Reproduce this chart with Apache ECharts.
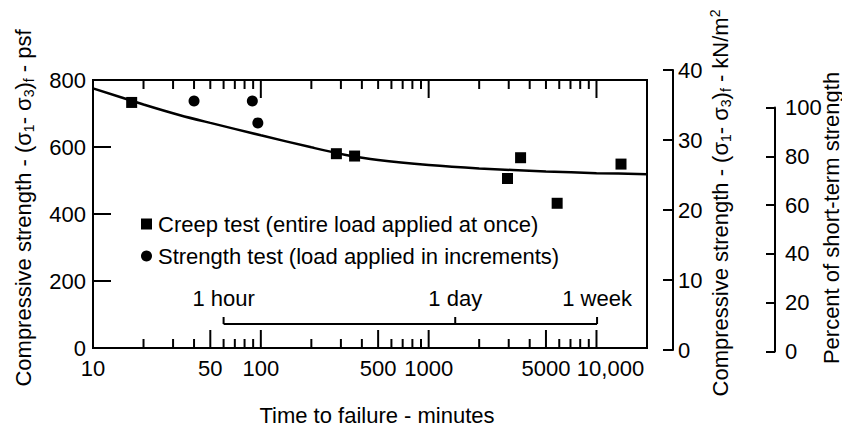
<!DOCTYPE html>
<html>
<head>
<meta charset="utf-8">
<script src="https://cdn.jsdelivr.net/npm/echarts@6/dist/echarts.min.js"></script>
<style>
  html, body { margin: 0; padding: 0; background: #fff; }
  #chart { width: 842px; height: 428px; }
</style>
</head>
<body>
<div id="chart"></div>
<script>
// Creep tests: time to failure (minutes) and compressive strength (psf)
const creepTime = [17, 282, 362, 2950, 3530, 5830, 14000];
const creepPsf  = [733, 580, 573, 506, 568, 432, 549];

// Strength tests, load applied in increments
const strengthTime = [40, 89, 96];
const strengthPsf  = [737, 737, 672];

// Trend curve through the results
const curveTime = [10, 20, 33, 50, 100, 200, 316, 500, 1000, 2000, 5000, 10000, 20000];
const curvePsf  = [775, 727, 695, 672, 635, 599, 577, 561, 546, 536, 527, 522, 519];

// Calendar marks on the time scale (minutes)
const timeMarks = [60, 1440, 10080];
const timeMarkLabels = ['1 hour', '1 day', '1 week'];

// Time axis labels and ticks (minutes)
const xLabelValues = [10, 50, 100, 500, 1000, 5000, 10000];
const xMajorBottom = [50, 100, 500, 1000, 5000, 10000];
const xMajorTop = [100, 1000, 10000];
const xMinorBottom = [20, 30, 40, 60, 70, 80, 90, 200, 300, 400, 600, 700, 800, 900,
                      2000, 3000, 4000, 6000, 7000, 8000, 9000];
const xMinorTop = [20, 30, 40, 50, 60, 70, 80, 90, 200, 300, 400, 500, 600, 700, 800, 900,
                   2000, 3000, 4000, 5000, 6000, 7000, 8000, 9000];

const creepName = 'Creep test (entire load applied at once)';
const strengthName = 'Strength test (load applied in increments)';

const FONT = '"Liberation Sans", Arial, Helvetica, sans-serif';
const BLACK = '#000';

function fmtMinutes(v) {
  return v >= 10000 ? v.toLocaleString('en-US') : String(v);
}

// Short tick marks along the top or bottom edge of the time axis
function tickSeries(values, side, len) {
  return {
    type: 'custom',
    xAxisIndex: 0,
    yAxisIndex: 0,
    silent: true,
    clip: false,
    z: 5,
    data: values.map(v => [v, 0]),
    renderItem(params, api) {
      const cs = params.coordSys;
      const x = api.coord([api.value(0), 0])[0];
      const y0 = side === 'bottom' ? cs.y + cs.height : cs.y;
      const y1 = side === 'bottom' ? y0 - len : y0 + len;
      return {
        type: 'line',
        shape: { x1: x, y1: y0, x2: x, y2: y1 },
        style: { stroke: BLACK, lineWidth: 2 }
      };
    }
  };
}

const sub = { fontSize: 14, fontFamily: FONT, fill: BLACK, padding: [11, 0, 0, 0] };
const sup = { fontSize: 14, fontFamily: FONT, fill: BLACK, padding: [0, 0, 11, 0] };
const norm = { fontSize: 22, fontFamily: FONT, fill: BLACK };
const stressLabel = '{n|Compressive strength - (σ}{s|1}{n|- σ}{s|3}{n|)}{s|f}{n| - ';

const sideAxis = (grid, max, step, tickLen, gap) => ({
  gridIndex: grid, type: 'value', position: 'right', min: 0, max: max, interval: step,
  axisLine: { show: true, onZero: false, lineStyle: { color: BLACK, width: 2 } },
  axisTick: { show: true, inside: true, length: tickLen, lineStyle: { color: BLACK, width: 2 } },
  axisLabel: { color: BLACK, fontSize: 22, fontFamily: FONT, margin: gap },
  splitLine: { show: false }
});

const chart = echarts.init(document.getElementById('chart'), null, { renderer: 'svg' });

chart.setOption({
  animation: false,
  backgroundColor: '#fff',
  textStyle: { fontFamily: FONT, color: BLACK },
  grid: [
    { left: 93, top: 80, width: 554, height: 268, show: true, borderColor: BLACK, borderWidth: 2, backgroundColor: 'transparent' },
    { left: 600, top: 70, width: 73, height: 280, show: false },
    { left: 700, top: 107.5, width: 75, height: 244, show: false }
  ],
  xAxis: [
    {
      gridIndex: 0, type: 'log', logBase: 10, min: 10, max: 20000,
      axisLine: { show: true, onZero: false, lineStyle: { color: BLACK, width: 2 } },
      axisTick: { show: false }, axisLabel: { show: false },
      splitLine: { show: false }, minorTick: { show: false }
    },
    { gridIndex: 1, type: 'value', min: 0, max: 1, show: false },
    { gridIndex: 2, type: 'value', min: 0, max: 1, show: false }
  ],
  yAxis: [
    {
      gridIndex: 0, type: 'value', min: 0, max: 800, interval: 200,
      axisLine: { show: true, onZero: false, lineStyle: { color: BLACK, width: 2 } },
      axisTick: { show: true, inside: true, length: 18, lineStyle: { color: BLACK, width: 2 } },
      axisLabel: { color: BLACK, fontSize: 22, fontFamily: FONT, margin: 7, padding: [7, 0, 0, 0] },
      splitLine: { show: false }
    },
    sideAxis(1, 40, 10, 10, 5),
    sideAxis(2, 100, 20, 9, 10)
  ],
  legend: {
    orient: 'vertical', left: 141, top: 213, padding: 0,
    itemWidth: 11, itemHeight: 11, itemGap: 10,
    selectedMode: false,
    textStyle: { color: BLACK, fontSize: 22, fontFamily: FONT, padding: [0, 0, 0, 1] },
    data: [creepName, strengthName]
  },
  graphic: [
    {
      type: 'text', x: 23, y: 208, rotation: Math.PI / 2, silent: true,
      style: { text: stressLabel + 'psf}', rich: { n: norm, s: sub }, align: 'center', verticalAlign: 'middle', fill: BLACK }
    },
    {
      type: 'text', x: 720, y: 203, rotation: Math.PI / 2, silent: true,
      style: { text: stressLabel + 'kN/m}{p|2}', rich: { n: norm, s: sub, p: sup }, align: 'center', verticalAlign: 'middle', fill: BLACK }
    },
    {
      type: 'text', x: 831, y: 218, rotation: Math.PI / 2, silent: true,
      style: { text: 'Percent of short-term strength', font: '22px ' + FONT, align: 'center', verticalAlign: 'middle', fill: BLACK }
    },
    {
      type: 'text', x: 377, y: 415, silent: true,
      style: { text: 'Time to failure - minutes', font: '22px ' + FONT, align: 'center', verticalAlign: 'middle', fill: BLACK }
    }
  ],
  series: [
    {
      type: 'line', name: 'trend', xAxisIndex: 0, yAxisIndex: 0,
      data: curveTime.map((t, i) => [t, curvePsf[i]]),
      smooth: 0.3, symbol: 'none', silent: true, z: 2,
      lineStyle: { color: BLACK, width: 2.5 }
    },
    {
      type: 'scatter', name: creepName, xAxisIndex: 0, yAxisIndex: 0,
      data: creepTime.map((t, i) => [t, creepPsf[i]]),
      symbol: 'rect', symbolSize: 11, itemStyle: { color: BLACK, opacity: 1 }, z: 4
    },
    {
      type: 'scatter', name: strengthName, xAxisIndex: 0, yAxisIndex: 0,
      data: strengthTime.map((t, i) => [t, strengthPsf[i]]),
      symbol: 'circle', symbolSize: 11, itemStyle: { color: BLACK, opacity: 1 }, z: 4
    },
    tickSeries(xMajorBottom, 'bottom', 18),
    tickSeries(xMinorBottom, 'bottom', 9),
    tickSeries(xMajorTop, 'top', 18),
    tickSeries(xMinorTop, 'top', 9),
    {
      // time axis labels below the plot; the widest one sits right of its tick
      type: 'custom', xAxisIndex: 0, yAxisIndex: 0, silent: true, clip: false,
      data: xLabelValues.map(v => [v, 0]),
      renderItem(params, api) {
        const cs = params.coordSys;
        const v = api.value(0);
        const x = api.coord([v, 0])[0];
        const text = fmtMinutes(v);
        const shift = text.length > 4 ? 14 : 0;
        return {
          type: 'text',
          style: {
            text: text, x: x + shift, y: cs.y + cs.height + 9,
            align: 'center', verticalAlign: 'top', fill: BLACK, font: '22px ' + FONT
          }
        };
      }
    },
    {
      // hour / day / week bracket
      type: 'custom', xAxisIndex: 0, yAxisIndex: 0, silent: true, clip: false,
      data: timeMarks.map(v => [v, 0]),
      renderItem(params, api) {
        const cs = params.coordSys;
        const baseY = cs.y + cs.height - 24;
        const x = api.coord([api.value(0), 0])[0];
        const children = [
          { type: 'line', shape: { x1: x, y1: baseY, x2: x, y2: baseY - 7 }, style: { stroke: BLACK, lineWidth: 2 } },
          {
            type: 'text',
            style: {
              text: timeMarkLabels[params.dataIndex], x: x, y: baseY - 15,
              align: 'center', verticalAlign: 'bottom', fill: BLACK, font: '22px ' + FONT
            }
          }
        ];
        if (params.dataIndex === 0) {
          const xEnd = api.coord([timeMarks[timeMarks.length - 1], 0])[0];
          children.push({ type: 'line', shape: { x1: x, y1: baseY, x2: xEnd, y2: baseY }, style: { stroke: BLACK, lineWidth: 2 } });
        }
        return { type: 'group', children: children };
      }
    }
  ]
});
</script>
</body>
</html>
